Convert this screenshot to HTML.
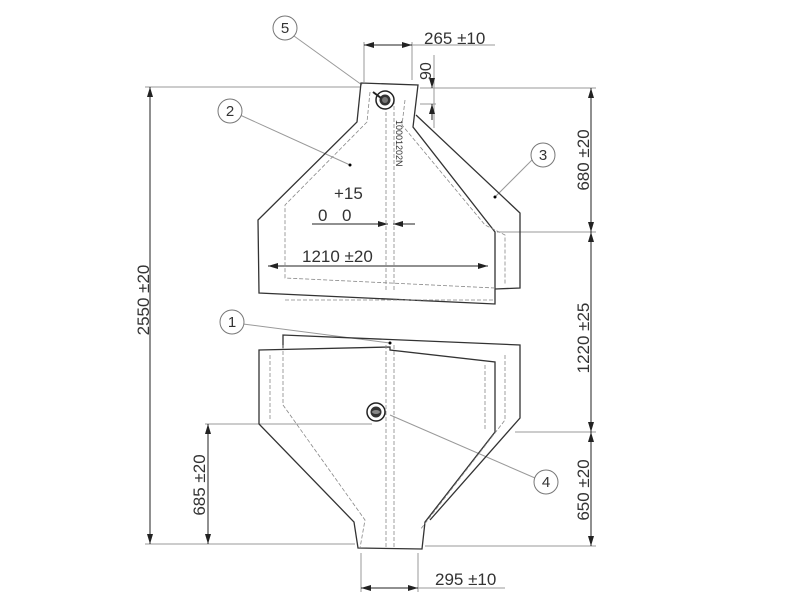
<!DOCTYPE html>
<html><head><meta charset="utf-8"><style>
html,body{margin:0;padding:0;background:#fff;}
svg{display:block;font-family:"Liberation Sans",sans-serif;}
</style></head><body>
<svg width="800" height="600" viewBox="0 0 800 600" xmlns="http://www.w3.org/2000/svg">
<defs>
<marker id="a" viewBox="0 0 10 6" refX="10" refY="3" markerWidth="10" markerHeight="6" orient="auto-start-reverse" markerUnits="userSpaceOnUse"><path d="M0,0 L10,3 L0,6 z" fill="#222"/></marker>
</defs>
<g fill="none" stroke="#999" stroke-width="1">
<line x1="145" y1="87" x2="361" y2="87"/>
<line x1="420" y1="88" x2="596" y2="88"/>
<line x1="497" y1="232" x2="596" y2="232"/>
<line x1="515" y1="432" x2="596" y2="432"/>
<line x1="425" y1="546" x2="596" y2="546"/>
<line x1="145" y1="544" x2="355" y2="544"/>
<line x1="205" y1="424" x2="372" y2="424"/>
<line x1="364" y1="42" x2="364" y2="82"/>
<line x1="412" y1="42" x2="412" y2="80"/>
<line x1="361" y1="553" x2="361" y2="592"/>
<line x1="418" y1="553" x2="418" y2="592"/>
<line x1="412" y1="45" x2="495" y2="45"/>
<line x1="418" y1="588" x2="505" y2="588"/>
<line x1="434" y1="55" x2="434" y2="128"/>
<line x1="420" y1="104" x2="436" y2="104"/>
<line x1="294" y1="36" x2="362" y2="85"/>
<line x1="240" y1="115" x2="350" y2="165"/>
<line x1="532" y1="160" x2="495" y2="197"/>
<line x1="243" y1="324" x2="390" y2="343"/>
<line x1="535" y1="478" x2="390" y2="415"/>
</g>
<g stroke="#222" stroke-width="1" fill="none">
<line x1="150" y1="87" x2="150" y2="544" marker-start="url(#a)" marker-end="url(#a)"/>
<line x1="208" y1="424" x2="208" y2="544" marker-start="url(#a)" marker-end="url(#a)"/>
<line x1="591" y1="88" x2="591" y2="232" marker-start="url(#a)" marker-end="url(#a)"/>
<line x1="591" y1="232" x2="591" y2="432" marker-start="url(#a)" marker-end="url(#a)"/>
<line x1="591" y1="432" x2="591" y2="546" marker-start="url(#a)" marker-end="url(#a)"/>
<line x1="364" y1="45" x2="412" y2="45" marker-start="url(#a)" marker-end="url(#a)"/>
<line x1="361" y1="588" x2="418" y2="588" marker-start="url(#a)" marker-end="url(#a)"/>
<line x1="268" y1="266" x2="488" y2="266" marker-start="url(#a)" marker-end="url(#a)"/>
<line x1="312" y1="224" x2="388" y2="224" marker-end="url(#a)"/>
<line x1="415" y1="224" x2="393" y2="224" marker-end="url(#a)"/>
<line x1="432" y1="78" x2="432" y2="88" marker-end="url(#a)"/>
<line x1="432" y1="120" x2="432" y2="104" marker-end="url(#a)"/>
</g>
<g stroke="#333" stroke-width="1.3" fill="none">
<path d="M361,83 L418,85 L413,127 L495,232 L495,304 L259,293 L258,220 L357,122 Z"/>
<path d="M416,115 L520,213 L520,288 L495,289"/>
<path d="M283,348 L283,335 L520,345 L520,418 L430,520"/>
<path d="M259,350 L390,347 L390,350 L495,362 L495,432 L425,522 L422,549 L358,548 L354,522 L259,424 Z"/>
</g>
<g stroke="#888" stroke-width="0.8" fill="none" stroke-dasharray="4,2">
<path d="M370,92 L367,122 L285,205 L285,278 L495,288"/>
<path d="M405,100 L402,125 L485,225 L505,235 L505,285"/>
<path d="M285,300 L495,300"/>
<path d="M386,100 L386,292 M394,100 L394,292"/>
<path d="M386,345 L386,548 M394,345 L394,548"/>
<path d="M283,345 L283,405 L365,520 L360,548"/>
<path d="M505,355 L505,420 L420,530"/>
<path d="M270,355 L270,420 M485,365 L485,430"/>
</g>
<circle cx="385" cy="100" r="9" fill="#fff" stroke="#222" stroke-width="1.5"/>
<circle cx="385" cy="100" r="5.5" fill="#333"/>
<circle cx="385" cy="100" r="3" fill="#777"/>
<line x1="373" y1="92" x2="381" y2="98" stroke="#222" stroke-width="2"/>
<circle cx="376" cy="412" r="9" fill="#fff" stroke="#222" stroke-width="1.5"/>
<circle cx="376" cy="412" r="5.5" fill="#333"/>
<ellipse cx="376" cy="412" rx="4" ry="2" fill="#888"/>
<circle cx="350" cy="165" r="1.5" fill="#000"/>
<circle cx="495" cy="197" r="1.5" fill="#000"/>
<circle cx="390" cy="343" r="1.5" fill="#000"/>
<g fill="#fff" stroke="#777" stroke-width="1">
<circle cx="285" cy="28" r="12"/>
<circle cx="230" cy="111" r="12"/>
<circle cx="543" cy="155" r="12"/>
<circle cx="232" cy="322" r="12"/>
<circle cx="546" cy="482" r="12"/>
</g>
<g fill="#333" font-size="15" text-anchor="middle">
<text x="285" y="33">5</text>
<text x="230" y="116">2</text>
<text x="543" y="160">3</text>
<text x="232" y="327">1</text>
<text x="546" y="487">4</text>
</g>
<g fill="#333" font-size="17">
<text x="424" y="44">265 ±10</text>
<text x="435" y="585">295 ±10</text>
<text x="302" y="262">1210 ±20</text>
<text x="334" y="199">+15</text>
<text x="318" y="221">0</text>
<text x="342" y="221">0</text>
<text transform="translate(431,80) rotate(-90)" font-size="16">90</text>
<g text-anchor="middle">
<text transform="translate(149,300) rotate(-90)">2550 ±20</text>
<text transform="translate(205,485) rotate(-90)">685 ±20</text>
<text transform="translate(589,160) rotate(-90)">680 ±20</text>
<text transform="translate(589,338) rotate(-90)">1220 ±25</text>
<text transform="translate(589,490) rotate(-90)">650 ±20</text>
</g>
<text transform="translate(396,120) rotate(90)" font-size="9">10001202N</text>
</g>
</svg>
</body></html>
